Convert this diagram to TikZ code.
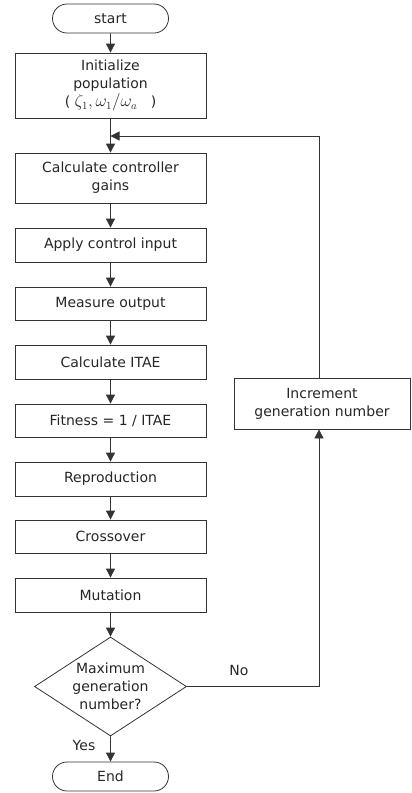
\documentclass[tikz,border=0pt]{standalone}
\usepackage[no-math]{fontspec}
\setmainfont{DejaVu Sans}
\usetikzlibrary{shapes.misc,shapes.geometric,arrows.meta}
\begin{document}
\begin{tikzpicture}[x=1pt,y=-1pt,
  every node/.style={font=\fontsize{14}{18}\selectfont, text=black!85},
  proc/.style={draw=black!80, line width=0.8pt, rectangle, minimum width=191pt, align=center, inner sep=0pt},
  term/.style={draw=black!80, line width=0.8pt, rounded rectangle, minimum width=116pt, minimum height=29pt, inner sep=0pt},
  decision/.style={draw=black!80, line width=0.8pt, diamond, minimum width=152pt, minimum height=99pt, inner sep=0pt},
  lbl/.style={inner sep=0pt},
  arr/.style={draw=black!80, line width=0.8pt, -{Triangle[length=9pt,width=9pt]}},
  ln/.style={draw=black!80, line width=0.8pt}
]
\useasboundingbox (0,0) rectangle (412,793);

\node[term] (start) at (110.5,18.5) {start};
\node[proc, minimum height=65pt] (init) at (110.5,85.5) {Initialize\\population\\( {\fontsize{16}{18}\selectfont$\zeta_1,\omega_1/\omega_a$} \ \ )};
\node[proc, minimum height=50pt] (gains) at (110.5,178) {Calculate controller\\gains};
\node[proc, minimum height=34pt] (apply) at (110.5,245) {Apply control input};
\node[proc, minimum height=33pt] (meas) at (110.5,303.5) {Measure output};
\node[proc, minimum height=34pt] (itae) at (110.5,362) {Calculate ITAE};
\node[proc, minimum height=33pt] (fit) at (110.5,420.5) {Fitness = 1 / ITAE};
\node[proc, minimum height=34pt] (repro) at (110.5,479) {Reproduction};
\node[proc, minimum height=33pt] (cross) at (110.5,536.5) {Crossover};
\node[proc, minimum height=34pt] (mut) at (110.5,595) {Mutation};
\node[decision] (dec) at (110.5,686.5) {};
\node[lbl, align=center] (dectext) at (dec.center) {Maximum\\generation\\number?};
\node[term] (end) at (110.5,776.5) {End};
\node[proc, minimum width=176pt, minimum height=51pt] (inc) at (322,403.5) {Increment\\generation number};

\node[lbl] (no) at (239,670) {No};
\node[lbl] (yes) at (84,745) {Yes};

\coordinate (lx) at (319,0);
\coordinate (jn) at (110.5,136);

\draw[arr] (start) -- (init);
\draw[arr] (init) -- (gains);
\draw[arr] (gains) -- (apply);
\draw[arr] (apply) -- (meas);
\draw[arr] (meas) -- (itae);
\draw[arr] (itae) -- (fit);
\draw[arr] (fit) -- (repro);
\draw[arr] (repro) -- (cross);
\draw[arr] (cross) -- (mut);
\draw[arr] (mut) -- (dec.north);
\draw[arr] (dec.south) -- (end);
\draw[arr] (dec.east) -| (lx |- inc.south);
\draw[arr] (lx |- inc.north) |- (jn);
\end{tikzpicture}
\end{document}
